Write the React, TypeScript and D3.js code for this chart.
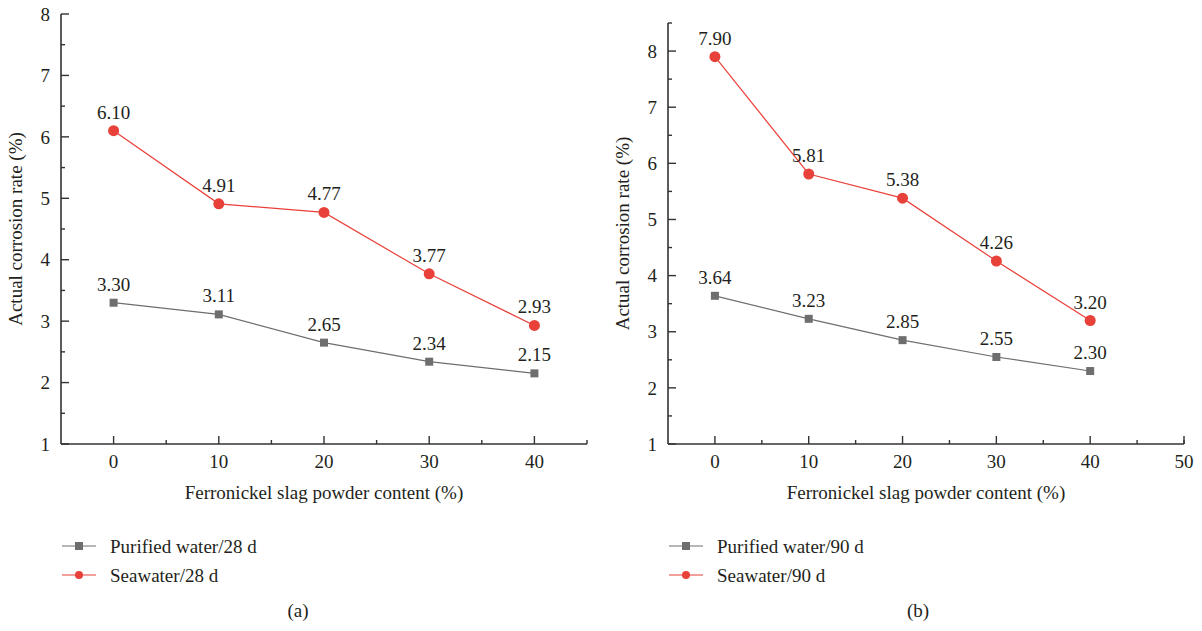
import React from "react";
import * as d3 from "d3";

const contents = [0, 10, 20, 30, 40];
const pure28 = [3.3, 3.11, 2.65, 2.34, 2.15];
const sea28 = [6.1, 4.91, 4.77, 3.77, 2.93];
const pure90 = [3.64, 3.23, 2.85, 2.55, 2.3];
const sea90 = [7.9, 5.81, 5.38, 4.26, 3.2];

const RED = "#e8413a";
const GRAY = "#6e6e6e";
const AXIS = "#333";
const FONT = "Liberation Serif, DejaVu Serif, serif";
const FS = 19;

type PanelProps = {
  left: number;
  right: number;
  top: number;
  bottom: number;
  xMax: number;
  yMax: number;
  pure: number[];
  sea: number[];
  pureName: string;
  seaName: string;
  tag: string;
  titleX: number;
  tagX: number;
};

const Panel = (p: PanelProps) => {
  const x = d3.scaleLinear().domain([-5, p.xMax]).range([p.left, p.right]);
  const y = d3.scaleLinear().domain([1, p.yMax]).range([p.bottom, p.top]);
  const line = d3
    .line<number>()
    .x((_, i) => x(contents[i]))
    .y((d) => y(d));

  const xMajor = d3.range(0, p.xMax + 0.1, 10);
  const xMinor = d3.range(5, p.xMax, 10);
  const yMajor = d3.range(1, Math.floor(p.yMax) + 0.1, 1);
  const yMinor = d3.range(1.5, p.yMax + 0.01, 1);
  const midY = (p.top + p.bottom) / 2;
  const midX = (p.left + p.right) / 2;

  return (
    <g style={{ fontFamily: FONT }} fill="#231f20">
      {/* axes */}
      <line x1={p.left} x2={p.left} y1={p.top} y2={p.bottom} stroke={AXIS} strokeWidth={1.6} />
      <line x1={p.left} x2={p.right} y1={p.bottom} y2={p.bottom} stroke={AXIS} strokeWidth={1.6} />
      {yMajor.map((v) => (
        <g key={"ym" + v}>
          <line x1={p.left} x2={p.left + 8} y1={y(v)} y2={y(v)} stroke={AXIS} strokeWidth={1.4} />
          <text x={p.left - 11} y={y(v)} dy="0.35em" textAnchor="end" fontSize={FS}>
            {v}
          </text>
        </g>
      ))}
      {yMinor.map((v) => (
        <line key={"yn" + v} x1={p.left} x2={p.left + 4} y1={y(v)} y2={y(v)} stroke={AXIS} strokeWidth={1.4} />
      ))}
      {xMajor.map((v) => (
        <g key={"xm" + v}>
          <line x1={x(v)} x2={x(v)} y1={p.bottom} y2={p.bottom - 8} stroke={AXIS} strokeWidth={1.4} />
          <text x={x(v)} y={p.bottom + 24} textAnchor="middle" fontSize={FS}>
            {v}
          </text>
        </g>
      ))}
      {xMinor.map((v) => (
        <line key={"xn" + v} x1={x(v)} x2={x(v)} y1={p.bottom} y2={p.bottom - 4} stroke={AXIS} strokeWidth={1.4} />
      ))}
      <line x1={p.right} x2={p.right} y1={p.bottom} y2={p.bottom - 4} stroke={AXIS} strokeWidth={1.4} />

      {/* titles */}
      <text x={p.titleX} y={midY} transform={`rotate(-90 ${p.titleX} ${midY})`} textAnchor="middle" fontSize={FS}>
        Actual corrosion rate (%)
      </text>
      <text x={midX} y={p.bottom + 55} textAnchor="middle" fontSize={FS}>
        Ferronickel slag powder content (%)
      </text>

      {/* series */}
      <path d={line(p.pure) || ""} fill="none" stroke={GRAY} strokeWidth={1.2} />
      <path d={line(p.sea) || ""} fill="none" stroke={RED} strokeWidth={1.2} />
      {p.pure.map((v, i) => (
        <g key={"p" + i}>
          <rect x={x(contents[i]) - 4} y={y(v) - 4} width={8} height={8} fill={GRAY} />
          <text x={x(contents[i])} y={y(v) - 12} textAnchor="middle" fontSize={FS}>
            {v.toFixed(2)}
          </text>
        </g>
      ))}
      {p.sea.map((v, i) => (
        <g key={"s" + i}>
          <circle cx={x(contents[i])} cy={y(v)} r={5.5} fill={RED} />
          <text x={x(contents[i])} y={y(v) - 12} textAnchor="middle" fontSize={FS}>
            {v.toFixed(2)}
          </text>
        </g>
      ))}

      {/* legend */}
      <line x1={p.left + 1} x2={p.left + 35} y1={546} y2={546} stroke={GRAY} strokeWidth={1.2} />
      <rect x={p.left + 14} y={542} width={8} height={8} fill={GRAY} />
      <text x={p.left + 49} y={546} dy="0.35em" fontSize={FS}>
        {p.pureName}
      </text>
      <line x1={p.left + 1} x2={p.left + 35} y1={575} y2={575} stroke={RED} strokeWidth={1.2} />
      <circle cx={p.left + 18} cy={575} r={4} fill={RED} />
      <text x={p.left + 49} y={575} dy="0.35em" fontSize={FS}>
        {p.seaName}
      </text>
      <text x={p.tagX} y={617} textAnchor="middle" fontSize={FS}>
        {p.tag}
      </text>
    </g>
  );
};

const App = () => (
  <svg width={1202} height={631} style={{ display: "block", position: "absolute", left: 0, top: 0, background: "#fff" }}>
    <Panel
      left={61}
      right={587}
      top={14}
      bottom={444}
      xMax={45}
      yMax={8}
      pure={pure28}
      sea={sea28}
      pureName="Purified water/28 d"
      seaName="Seawater/28 d"
      tag="(a)"
      titleX={22}
      tagX={298}
    />
    <Panel
      left={668}
      right={1184}
      top={23}
      bottom={444}
      xMax={50}
      yMax={8.5}
      pure={pure90}
      sea={sea90}
      pureName="Purified water/90 d"
      seaName="Seawater/90 d"
      tag="(b)"
      titleX={629}
      tagX={918}
    />
  </svg>
);

export default App;
